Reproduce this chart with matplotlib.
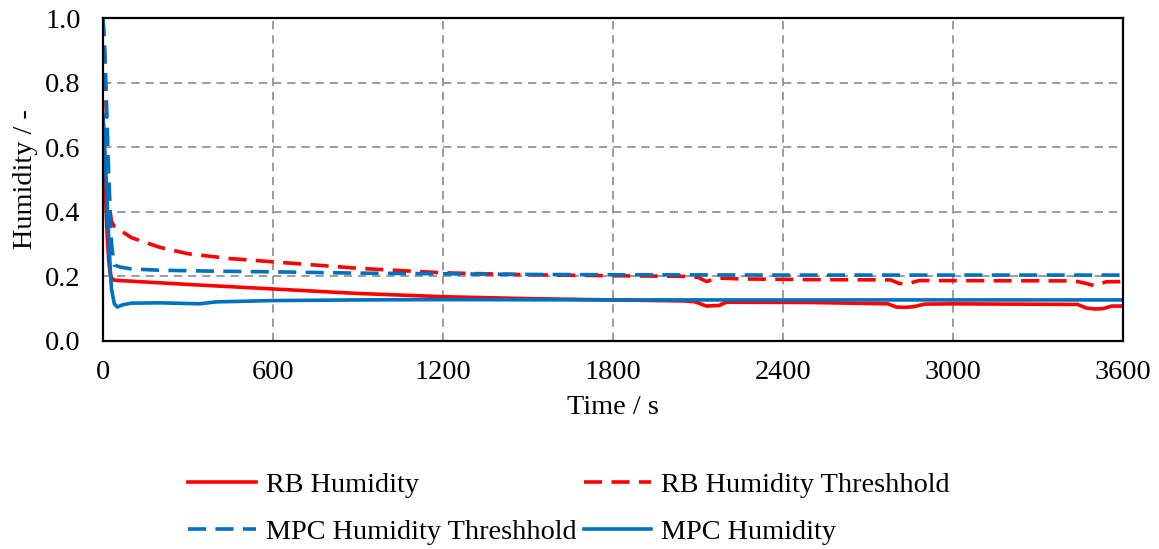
import matplotlib
matplotlib.use("Agg")
import matplotlib.pyplot as plt

# RB (rule based) humidity
rb_t = [0, 5, 10, 15, 20, 25, 30, 40, 100, 300, 600, 900, 1200, 1500, 1800, 2050,
        2090, 2130, 2175, 2200, 2500, 2770, 2800, 2830, 2860, 2900, 3000, 3440,
        3470, 3500, 3530, 3560, 3600]
rb_h = [0.70, 0.55, 0.42, 0.32, 0.25, 0.21, 0.195, 0.188, 0.185, 0.175, 0.161, 0.147,
        0.137, 0.131, 0.127, 0.124, 0.121, 0.108, 0.110, 0.120, 0.119, 0.115, 0.105,
        0.104, 0.106, 0.114, 0.115, 0.113, 0.102, 0.099, 0.100, 0.108, 0.108]

rb_thr_t = [0, 5, 10, 15, 20, 25, 30, 40, 100, 200, 300, 450, 600, 900, 1200, 1500,
            1800, 2050, 2100, 2130, 2170, 2250, 2500, 2780, 2810, 2840, 2880, 3400,
            3440, 3470, 3500, 3540, 3600]
rb_thr = [1.0, 0.90, 0.75, 0.60, 0.48, 0.40, 0.37, 0.355, 0.32, 0.29, 0.27, 0.255,
          0.245, 0.225, 0.211, 0.205, 0.202, 0.200, 0.197, 0.184, 0.195, 0.192, 0.190,
          0.189, 0.178, 0.177, 0.187, 0.186, 0.184, 0.178, 0.171, 0.183, 0.184]

mpc_thr_t = [0, 5, 10, 15, 20, 25, 30, 40, 60, 100, 200, 400, 600, 900, 1200, 1500,
             1800, 2400, 3000, 3600]
mpc_thr = [1.0, 0.92, 0.80, 0.66, 0.52, 0.40, 0.30, 0.235, 0.229, 0.223, 0.219, 0.216,
           0.214, 0.210, 0.208, 0.206, 0.205, 0.204, 0.204, 0.204]

mpc_t = [0, 5, 10, 15, 20, 25, 30, 40, 50, 70, 100, 200, 340, 360, 400, 600, 900,
         1200, 1800, 2400, 3000, 3600]
mpc_h = [0.70, 0.62, 0.52, 0.42, 0.32, 0.23, 0.16, 0.115, 0.105, 0.112, 0.117, 0.118,
         0.115, 0.117, 0.121, 0.125, 0.127, 0.128, 0.127, 0.127, 0.127, 0.127]

x_ticks = [0, 600, 1200, 1800, 2400, 3000, 3600]
y_ticks = [0.0, 0.2, 0.4, 0.6, 0.8, 1.0]

red = "#FF0000"
blue = "#0070C0"
fs = 20.3
dash = (0, (5.0, 2.6))

plt.rcParams["font.family"] = ["Liberation Serif", "DejaVu Serif"]

fig = plt.figure(figsize=(11.59, 5.49), dpi=100)
ax = fig.add_axes([0.0889, 0.379, 0.880, 0.588])

l1, = ax.plot(rb_t, rb_h, color=red, lw=2.6, label="RB Humidity", zorder=3)
l2, = ax.plot(rb_thr_t, rb_thr, color=red, lw=2.6, ls=dash,
              label="RB Humidity Threshhold", zorder=3)
l3, = ax.plot(mpc_thr_t, mpc_thr, color=blue, lw=2.6, ls=dash,
              label="MPC Humidity Threshhold", zorder=4)
l4, = ax.plot(mpc_t, mpc_h, color=blue, lw=2.6, label="MPC Humidity", zorder=4)

ax.set_xlim(0, 3600)
ax.set_ylim(0, 1.0)
ax.set_xticks(x_ticks)
ax.set_yticks(y_ticks)
ax.set_yticklabels(["%.1f" % v for v in y_ticks])
ax.tick_params(length=0, labelsize=fs)
ax.tick_params(axis="x", pad=14)
ax.tick_params(axis="y", pad=16)
ax.grid(True, color="#8C8C8C", ls=(0, (5, 3.5)), lw=1.2, zorder=1)
for s in ax.spines.values():
    s.set_linewidth(1.6)
    s.set_color("black")
    s.set_zorder(5)

ax.set_xlabel("Time / s", fontsize=fs, labelpad=7)
ax.set_ylabel("Humidity / -", fontsize=fs, labelpad=5)

fig.legend([l1, l3, l2, l4],
           ["RB Humidity", "MPC Humidity Threshhold", "RB Humidity Threshhold", "MPC Humidity"],
           ncol=2, loc="center", bbox_to_anchor=(0.491, 0.073), frameon=False,
           fontsize=fs, handlelength=2.4, handletextpad=0.35, columnspacing=0.25,
           labelspacing=0.75)

fig.savefig("out.png", dpi=100)
